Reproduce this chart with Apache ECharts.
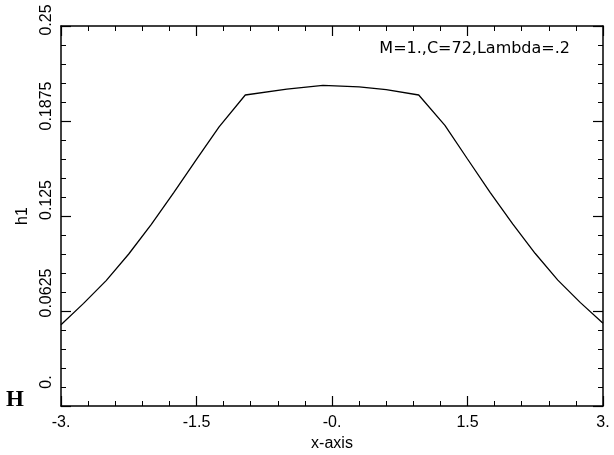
<!DOCTYPE html>
<html>
<head>
<meta charset="utf-8">
<script src="https://cdn.jsdelivr.net/npm/echarts@6/dist/echarts.min.js"></script>
<style>
  html, body { margin: 0; padding: 0; background: #fff; }
  #chart { width: 614px; height: 455px; }
</style>
</head>
<body>
<div id="chart"></div>
<script>
// Data
var xValues = [-3, -2.75, -2.5, -2.25, -2, -1.75, -1.5, -1.25, -0.96, -0.5, -0.1, 0.3, 0.6, 0.96, 1.25, 1.5, 1.75, 2, 2.25, 2.5, 2.75, 3];
var h1Values = [0.0535, 0.0675, 0.0825, 0.1000, 0.1195, 0.1405, 0.1622, 0.1836, 0.2046, 0.2085, 0.2110, 0.2100, 0.2082, 0.2046, 0.1846, 0.1625, 0.1405, 0.1198, 0.1003, 0.0828, 0.0680, 0.0545];
var xTickValues = [-3, -1.5, 0, 1.5, 3];
var xTickLabels = ["-3.", "-1.5", "-0.", "1.5", "3."];
var yTickValues = [0, 0.0625, 0.125, 0.1875, 0.25];
var yTickLabels = ["0.", "0.0625", "0.125", "0.1875", "0.25"];
var annotation = "M=1.,C=72,Lambda=.2";
var xName = "x-axis";
var yName = "h1";
var cornerMark = "H";

function indexOfValue(values, v) {
  for (var i = 0; i < values.length; i++) {
    if (Math.abs(values[i] - v) < 1e-9) return i;
  }
  return -1;
}

var seriesData = xValues.map(function (x, i) { return [x, h1Values[i]]; });

// ---- styling ----
var font = "Liberation Sans, Arial, sans-serif";
var frameLine = { color: "#000", width: 1.5 };
var majorTick = { show: true, inside: true, length: 10, lineStyle: { color: "#000", width: 1.2 } };
var minorTick = { show: true, splitNumber: 5, length: 5, lineStyle: { color: "#000", width: 1 } };
// per-label shift (px, along the rotated text) for the y tick labels
var yLabelPad = [48, 36, 32, 30, 12];
var yRich = {};
yLabelPad.forEach(function (p, i) {
  yRich["l" + i] = { color: "#000", fontSize: 16, fontFamily: font, padding: [0, 0, 0, p] };
});

var chart = echarts.init(document.getElementById("chart"), null, { renderer: "canvas" });
chart.setOption({
  animation: false,
  backgroundColor: "#fff",
  grid: { left: 61, top: 26, right: 11, bottom: 49, containLabel: false, outerBoundsMode: "none" },
  xAxis: [
    {
      type: "value", min: -3, max: 3, interval: 1.5,
      position: "bottom",
      name: xName, nameLocation: "middle", nameGap: 30,
      nameTextStyle: { color: "#000", fontSize: 16, fontFamily: font },
      axisLine: { show: true, onZero: false, lineStyle: frameLine },
      axisTick: majorTick,
      minorTick: minorTick,
      splitLine: { show: false },
      axisLabel: {
        color: "#000", fontSize: 16, fontFamily: font, margin: 9,
        formatter: function (v) {
          var i = indexOfValue(xTickValues, v);
          return i < 0 ? "" : xTickLabels[i];
        }
      }
    },
    {
      type: "value", min: -3, max: 3, interval: 1.5,
      position: "top",
      axisLine: { show: true, onZero: false, lineStyle: frameLine },
      axisTick: majorTick,
      minorTick: minorTick,
      splitLine: { show: false },
      axisLabel: { show: false }
    }
  ],
  yAxis: [
    {
      type: "value", min: 0, max: 0.25, interval: 0.0625,
      position: "left",
      name: yName, nameLocation: "middle", nameGap: 30, nameRotate: 90,
      nameTextStyle: { color: "#000", fontSize: 16, fontFamily: font },
      axisLine: { show: true, onZero: false, lineStyle: frameLine },
      axisTick: majorTick,
      minorTick: minorTick,
      splitLine: { show: false },
      axisLabel: {
        color: "#000", fontSize: 16, fontFamily: font, rotate: 90, margin: 6,
        rich: yRich,
        formatter: function (v) {
          var i = indexOfValue(yTickValues, v);
          return i < 0 ? "" : "{l" + i + "|" + yTickLabels[i] + "}";
        }
      }
    },
    {
      type: "value", min: 0, max: 0.25, interval: 0.0625,
      position: "right",
      axisLine: { show: true, onZero: false, lineStyle: frameLine },
      axisTick: majorTick,
      minorTick: minorTick,
      splitLine: { show: false },
      axisLabel: { show: false }
    }
  ],
  graphic: [
    {
      type: "text", right: 44, top: 41,
      style: { text: annotation, fill: "#000", fontSize: 16, fontFamily: "DejaVu Sans, sans-serif" }
    },
    {
      type: "text", left: 6, top: 389,
      style: { text: cornerMark, fill: "#000", fontSize: 23, fontWeight: "bold", fontFamily: "Liberation Serif, Times New Roman, serif" }
    }
  ],
  series: [
    {
      type: "line",
      xAxisIndex: 0, yAxisIndex: 0,
      data: seriesData,
      showSymbol: false, symbol: "none", smooth: false,
      lineStyle: { color: "#000", width: 1.3 },
      silent: true
    }
  ]
});
</script>
</body>
</html>
